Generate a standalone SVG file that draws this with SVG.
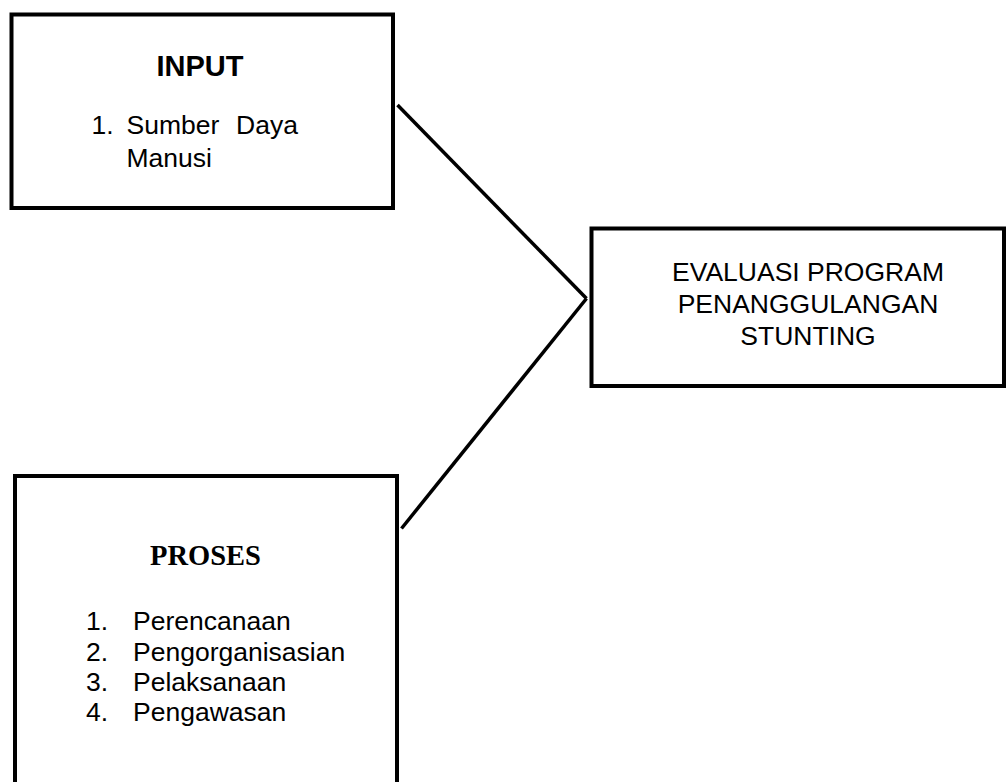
<svg xmlns="http://www.w3.org/2000/svg" width="1007" height="782" viewBox="0 0 1007 782">
  <style>
    .box { fill: #ffffff; stroke: #000000; stroke-width: 4; }
    .link { fill: none; stroke: #000000; stroke-width: 3.5; stroke-linecap: butt; }
    .txt { font-family: "Liberation Sans", Arial, sans-serif; font-size: 26.5px; fill: #000000; }
    .title { font-family: "Liberation Sans", Arial, sans-serif; font-size: 29px; font-weight: bold; fill: #000000; }
    .serif-title { font-family: "Liberation Serif", "Times New Roman", serif; font-size: 28.5px; font-weight: bold; fill: #000000; }
  </style>
  <rect width="1007" height="782" fill="#ffffff"/>

  <!-- connectors: the two inputs converge on the evaluation box -->
  <g id="connectors">
    <line class="link" x1="397.5" y1="105" x2="586.5" y2="298.5"/>
    <line class="link" x1="586.5" y1="298.5" x2="401.5" y2="528.5"/>
  </g>

  <g id="node-input">
    <rect class="box" x="11.5" y="14.5" width="381.5" height="193.5"/>
    <text class="title" x="200" y="76" text-anchor="middle">INPUT</text>
    <text class="txt" x="91.5" y="134">1.</text>
    <text class="txt" x="126.5" y="134">Sumber</text>
    <text class="txt" x="236" y="134">Daya</text>
    <text class="txt" x="126.5" y="166.5">Manusi</text>
  </g>

  <g id="node-evaluasi">
    <rect class="box" x="591.5" y="228.5" width="412.5" height="157.5"/>
    <text class="txt" x="808" y="281" text-anchor="middle">EVALUASI PROGRAM</text>
    <text class="txt" x="808" y="313" text-anchor="middle">PENANGGULANGAN</text>
    <text class="txt" x="808" y="345" text-anchor="middle">STUNTING</text>
  </g>

  <g id="node-proses">
    <rect class="box" x="15" y="476" width="382" height="320"/>
    <text class="serif-title" x="205.5" y="565" text-anchor="middle">PROSES</text>
    <text class="txt" x="86" y="629.5">1.</text>
    <text class="txt" x="133" y="629.5">Perencanaan</text>
    <text class="txt" x="86" y="660.5">2.</text>
    <text class="txt" x="133" y="660.5">Pengorganisasian</text>
    <text class="txt" x="86" y="690.5">3.</text>
    <text class="txt" x="133" y="690.5">Pelaksanaan</text>
    <text class="txt" x="86" y="720.5">4.</text>
    <text class="txt" x="133" y="720.5">Pengawasan</text>
  </g>
</svg>
